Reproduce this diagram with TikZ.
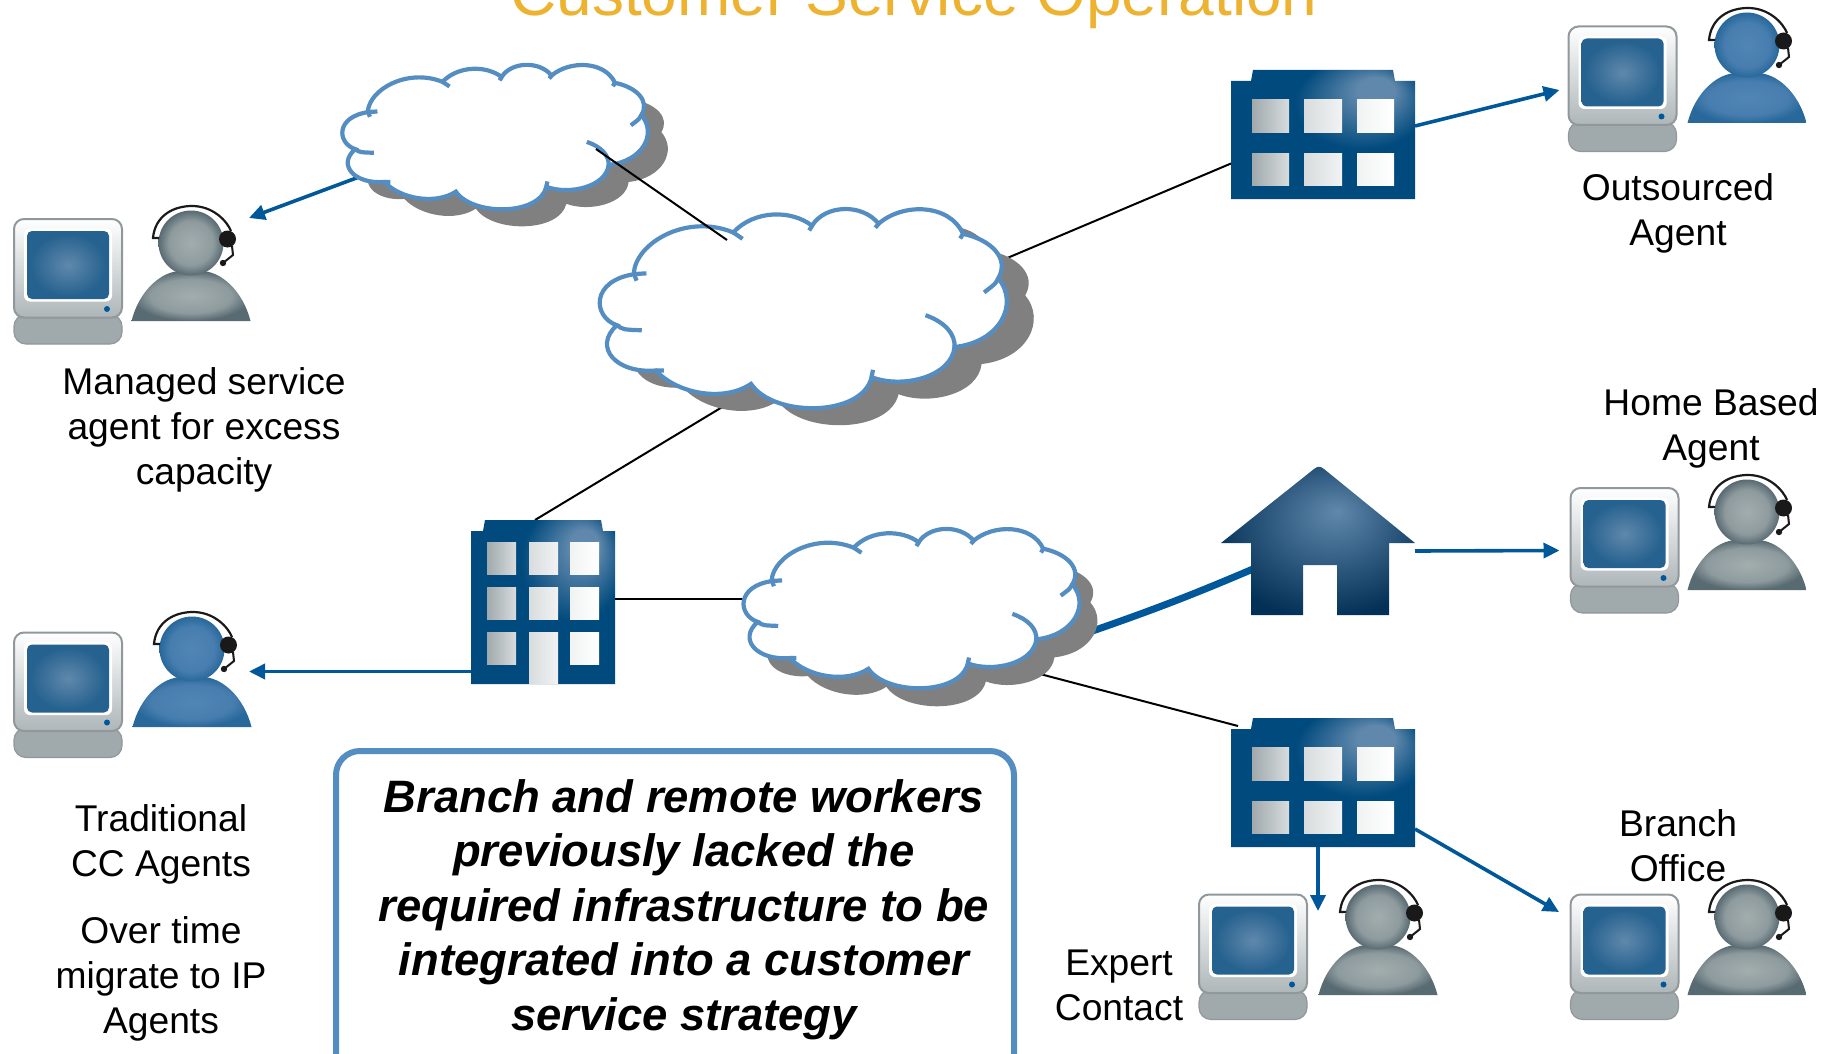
\documentclass[tikz,border=0pt]{standalone}
\usepackage{fontspec}
\setmainfont{Liberation Sans}
\usetikzlibrary{arrows.meta}
\definecolor{titlegold}{RGB}{236, 178, 48}
\definecolor{linkblue}{RGB}{0, 88, 154}
\definecolor{cloudblue}{RGB}{84, 141, 194}
\definecolor{shadowgray}{RGB}{128, 128, 128}
\definecolor{bldgbase}{RGB}{0, 74, 125}
\definecolor{bldglight}{RGB}{96, 136, 172}
\definecolor{housedark}{RGB}{3, 48, 86}
\definecolor{screenedge}{RGB}{38, 98, 143}
\definecolor{silverdark}{RGB}{160, 169, 172}
\definecolor{silvermid}{RGB}{216, 220, 221}
\definecolor{silverpale}{RGB}{241, 243, 243}
\definecolor{graylight}{RGB}{163, 173, 174}
\definecolor{graymid}{RGB}{142, 155, 158}
\definecolor{grayedge}{RGB}{88, 106, 114}
\definecolor{bluelight}{RGB}{80, 133, 181}
\definecolor{bluemid}{RGB}{72, 126, 175}
\definecolor{blueedge}{RGB}{40, 104, 155}
\pgfdeclareradialshading{bldgshade}{\pgfpoint{16bp}{19bp}}{color(0bp)=(bldglight); color(5bp)=(bldglight); color(18bp)=(bldgbase); color(50bp)=(bldgbase)}
\pgfdeclareradialshading{houseshade}{\pgfpoint{5bp}{10bp}}{color(0bp)=(bldglight); color(30bp)=(housedark); color(50bp)=(housedark)}
\pgfdeclareradialshading{screenshade}{\pgfpoint{0bp}{0bp}}{color(0bp)=(bldglight); color(23bp)=(screenedge); color(50bp)=(screenedge)}
\pgfdeclareradialshading{agentgray}{\pgfpoint{0bp}{0bp}}{color(0bp)=(graylight); color(17bp)=(graymid); color(25bp)=(grayedge); color(50bp)=(grayedge)}
\pgfdeclareradialshading{agentblue}{\pgfpoint{0bp}{0bp}}{color(0bp)=(bluelight); color(17bp)=(bluemid); color(25bp)=(blueedge); color(50bp)=(blueedge)}
% cloud outline, taken from the big cloud
\def\cloudrim{(668,700) .. controls (672,610) and (780,520) .. (880,578)
  .. controls (925,510) and (1005,510) .. (1048,558)
  .. controls (1075,495) and (1155,490) .. (1190,552)
  .. controls (1240,490) and (1340,490) .. (1370,582)
  .. controls (1430,600) and (1470,655) .. (1445,715)
  .. controls (1490,790) and (1450,905) .. (1352,920)
  .. controls (1345,1010) and (1240,1045) .. (1175,1010)
  .. controls (1155,1130) and (965,1130) .. (918,1030)
  .. controls (860,1085) and (760,1060) .. (715,990)
  .. controls (630,1000) and (580,920) .. (632,855)
  .. controls (580,830) and (575,720) .. (672,702)}
\tikzset{
  wire/.style={black, line width=1pt},
  link/.style={linkblue, line width=1.8pt, -{Triangle[length=8pt,width=7.5pt]}},
  label/.style={align=center, font=\fontsize{18.6}{22.5}\selectfont, inner sep=0pt},
  slot/.style={inner sep=0pt, outer sep=0pt},
  pcbox/.style={slot, minimum width=54pt, minimum height=63pt},
  agentbox/.style={slot, anchor=south, minimum width=60pt, minimum height=57.5pt},
  widebox/.style={slot, minimum width=92pt, minimum height=64.5pt},
  pics/cloudshadow/.style={code={
    \begin{scope}[shift={(-1032,-805)}]
      \fill[shadowgray] \cloudrim -- cycle;
    \end{scope}}},
  pics/cloud/.style={code={
    \begin{scope}[shift={(-1032,-805)}]
      \fill[white] \cloudrim -- cycle;
      \draw[cloudblue, line width=2.1pt] \cloudrim -- (668,700);
      \draw[cloudblue, line width=2.1pt] (880,578) -- (900,597) (1048,558) -- (1042,572) (1190,552) -- (1183,564)
        (1370,582) -- (1364,596) (1445,715) .. controls (1440,730) .. (1415,757)
        (1290,825) .. controls (1330,845) and (1355,880) .. (1352,925)
        (1175,1010) -- (1178,988) (715,990) -- (732,990)
        (632,855) .. controls (645,868) .. (685,870) (672,702) -- (695,700) (668,700) -- (674,722);
    \end{scope}}},
  pics/computer/.style={code={
    \fill[silverdark, draw=silverdark!90!black, line width=.6pt, rounded corners=6pt] (-54,33) rectangle (54,62.5);
    \shade[top color=white, bottom color=silverdark!85!white, draw=silverdark!90!black, line width=1pt, rounded corners=5pt] (-54,-62.5) rectangle (54,36);
    \fill[white, rounded corners=3pt] (-44,-53) rectangle (44,20);
    \shade[shading=screenshade, rounded corners=2.5pt] (-41,-50.5) rectangle (41,17.5);
    \fill[linkblue] (39,27.5) circle[radius=3];}},
  pics/agent/.style={code={
    \shade[shading=#1] (-59.5,0) .. controls (-52,-30) and (-30,-50) .. (-10,-50) -- (10,-50) .. controls (30,-50) and (52,-30) .. (59.5,0) -- cycle;
    \shade[shading=#1] (0,-78) circle[radius=32.5];
    \draw[black!90, line width=1.1pt] (-32,-83) -- (-38,-83) .. controls (-36,-105) and (-18,-115) .. (1,-115) .. controls (22,-115) and (36,-100) .. (40,-90);
    \fill[black!90] (36.5,-82) circle[radius=8.5];
    \draw[black!90, line width=1pt] (41,-75) -- (42,-66) -- (32,-58);
    \fill[black!90] (32,-58) circle[radius=3.2];}},
  pics/widebldg/.style={code={
    \shade[shading=bldgshade] (-92,64.5) -- (-92,-53.5) -- (-72,-53.5) -- (-70,-64.5) -- (70,-64.5) -- (72,-53.5) -- (92,-53.5) -- (92,64.5) -- cycle;
    \foreach \y/\h in {-35/33, 19/32}{
      \shade[left color=silverdark, right color=silvermid] (-71,\y) rectangle +(37,\h);
      \shade[left color=silvermid, right color=silverpale] (-19,\y) rectangle +(38,\h);
      \shade[left color=silverpale, right color=white] (34,\y) rectangle +(37,\h);
    }}},
  pics/tallbldg/.style={code={
    \shade[shading=bldgshade] (-72,82) -- (-72,-71) -- (-60,-71) -- (-58,-82) -- (58,-82) -- (60,-71) -- (72,-71) -- (72,82) -- cycle;
    \foreach \y in {-60,-15,30}{
      \shade[left color=silverdark, right color=silvermid] (-56,\y) rectangle +(29,32);
      \shade[left color=silverpale, right color=white] (27,\y) rectangle +(29,32);
    }
    \foreach \y/\h in {-60/32,-15/32,30/51}{
      \shade[left color=silvermid, right color=silverpale] (-14,\y) rectangle +(29,\h);
    }}},
  pics/house/.style={code={
    \shade[shading=houseshade] (-97,2) -- (-4,-72) .. controls (0,-75) and (2,-75) .. (6,-72) -- (97,2) -- (71,2) -- (71,74) -- (19,74) -- (19,24) -- (-15,24) -- (-15,74) -- (-67,74) -- (-67,2) -- cycle;}}
}
\begin{document}
\begin{tikzpicture}[x=.5pt, y=-.5pt]
  \useasboundingbox (0,0) rectangle (1831,1054);
  \node[anchor=base, inner sep=0pt, text=titlegold, font=\fontsize{32}{38}\selectfont] (title) at (914,16) {Customer Service Operation};

  % nodes that carry the icons
  \node[slot, minimum width=152pt, minimum height=73pt] (cloudSmall) at (496,137) {};
  \node[slot, minimum width=204.5pt, minimum height=100.5pt] (cloudBig) at (804.5,308.5) {};
  \node[slot, minimum width=168.5pt, minimum height=80.5pt] (cloudMid) at (912.5,608.5) {};
  \node[widebox] (bldgTop) at (1323,134.5) {};
  \node[widebox] (bldgBranch) at (1323,782.5) {};
  \node[slot, minimum width=72pt, minimum height=82pt] (bldgLeft) at (543,602) {};
  \node[slot, minimum width=97pt, minimum height=74pt] (houseHome) at (1318,541) {};
  \node[pcbox] (pcManaged) at (68,281.5) {};
  \node[pcbox] (pcTrad) at (68,695) {};
  \node[pcbox] (pcOut) at (1622.5,89) {};
  \node[pcbox] (pcHome) at (1624.5,550.5) {};
  \node[pcbox] (pcExpert) at (1253,957) {};
  \node[pcbox] (pcBranch) at (1624.5,957) {};
  \node[agentbox] (agentManaged) at (191,321) {};
  \node[agentbox] (agentTrad) at (192,727) {};
  \node[agentbox] (agentOut) at (1747,123) {};
  \node[agentbox] (agentHome) at (1747,590) {};
  \node[agentbox] (agentExpert) at (1378,995) {};
  \node[agentbox] (agentBranch) at (1747,995) {};

  % connectors under the icons
  \draw[link] ([shift={(15,40)}]cloudSmall.west) -- ([shift={(-2,12)}]agentManaged.north east);
  \draw[wire] ([shift={(-59,-16)}]cloudBig.south) -- ([shift={(-8,0)}]bldgLeft.north);
  \draw[wire] ([shift={(-10,-47)}]cloudBig.east) -- ([shift={(0,29)}]bldgTop.west);
  \draw[link] ([shift={(0,-8.5)}]bldgTop.east) -- ([shift={(-9,1)}]pcOut.west);
  \draw[link] ([shift={(0,69.5)}]bldgLeft.west) -- ([shift={(-3,2)}]agentTrad.east);
  \draw[wire] ([shift={(0,-3)}]bldgLeft.east) -- ([shift={(10,-9.5)}]cloudMid.west);
  \draw[linkblue, line width=3.5pt] ([shift={(10,23)}]cloudMid.east) to[bend right=2] ([shift={(39,25)}]houseHome.west);
  \draw[wire] ([shift={(-60,-20)}]cloudMid.south east) -- ([shift={(7,8)}]bldgBranch.north west);
  \draw[link] ([shift={(0,10)}]houseHome.east) -- ([shift={(-11,0)}]pcHome.west);
  \draw[link] ([shift={(-5,0)}]bldgBranch.south) -- ([shift={(0,31)}]agentExpert.north west);
  \draw[link] ([shift={(0,46.5)}]bldgBranch.east) -- ([shift={(-11.5,-45)}]pcBranch.west);

  % clouds
  \pic[xscale=.352, yscale=.243] at ([shift={(20,17)}]cloudSmall.center) {cloudshadow};
  \pic[xscale=.352, yscale=.243] at (cloudSmall.center) {cloud};
  \pic[xscale=.469, yscale=.335] at ([shift={(27,17)}]cloudBig.center) {cloudshadow};
  \pic[xscale=.469, yscale=.335] at (cloudBig.center) {cloud};
  \pic[xscale=.387, yscale=.268] at ([shift={(18,18)}]cloudMid.center) {cloudshadow};
  \pic[xscale=.387, yscale=.268] at (cloudMid.center) {cloud};
  \draw[wire] ([shift={(-52,12)}]cloudSmall.east) -- ([shift={(-77.5,32)}]cloudBig.north);

  % sites and people
  \pic at (bldgTop) {widebldg};
  \pic at (bldgBranch) {widebldg};
  \pic at (bldgLeft) {tallbldg};
  \pic at (houseHome) {house};
  \foreach \n in {pcManaged,pcTrad,pcOut,pcHome,pcExpert,pcBranch} \pic at (\n) {computer};
  \foreach \n in {agentManaged,agentHome,agentExpert,agentBranch} \pic at (\n.south) {agent=agentgray};
  \foreach \n in {agentTrad,agentOut} \pic at (\n.south) {agent=agentblue};

  % labels
  \node[label] (lblManaged) at (204,429.5) {Managed service\\agent for excess\\capacity};
  \node[label] (lblTrad) at (161,844.5) {Traditional\\CC Agents};
  \node[label] (lblOver) at (161,978.5) {Over time\\migrate to IP\\Agents};
  \node[label] (lblOut) at (1678,213.5) {Outsourced\\Agent};
  \node[label] (lblHome) at (1711,428) {Home Based\\Agent};
  \node[label] (lblBranch) at (1678,846) {Branch\\Office};
  \node[label] (lblExpert) at (1119,985) {Expert\\Contact};

  \node[draw=cloudblue, line width=3pt, rounded corners=12pt, fill=white, minimum width=339pt, minimum height=165pt, inner sep=0pt] (noteBox) at (675,916) {};
  \node[align=center, inner sep=0pt, font=\fontsize{22.7}{27.25}\selectfont\bfseries\itshape] (noteText) at (684,909.5) {Branch and remote workers\\previously lacked the\\required infrastructure to be\\integrated into a customer\\service strategy};
\end{tikzpicture}
\end{document}
